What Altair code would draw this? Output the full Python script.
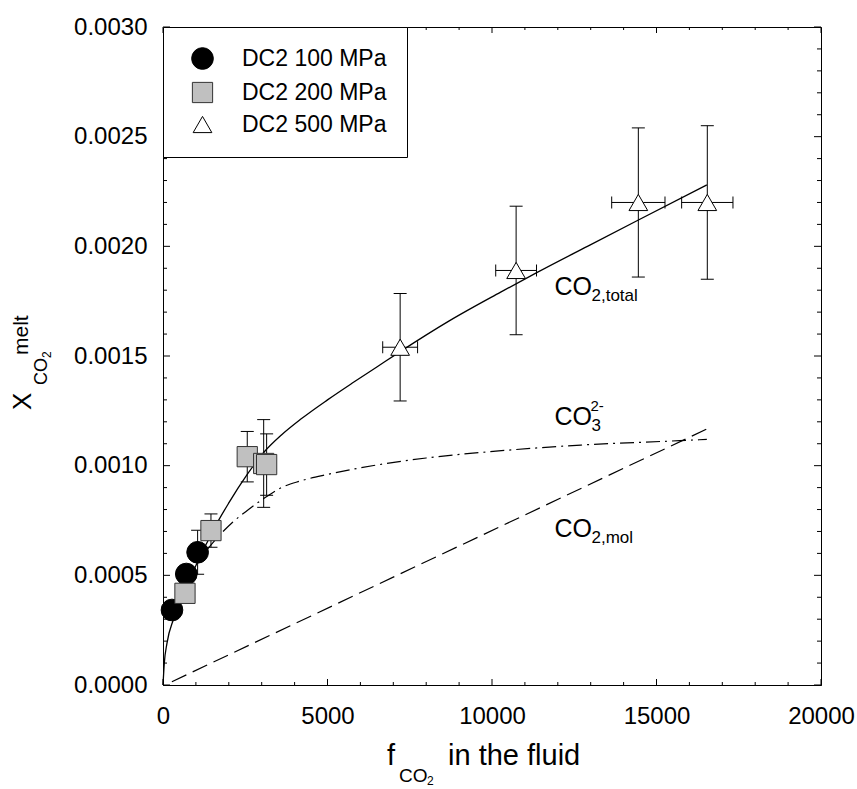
import altair as alt
import pandas as pd

FONT = "Liberation Sans"

# ---------------- data ----------------
series_names = ["DC2 100 MPa", "DC2 200 MPa", "DC2 500 MPa"]

p100_x = [273, 708, 1052]
p100_y = [0.000342, 0.000506, 0.000605]
p100_yerr = [0.00004, 0.00004, 0.0001]

p200_x = [668, 1458, 2561, 3060, 3150]
p200_y = [0.000418, 0.000704, 0.001041, 0.00101, 0.001005]
p200_yerr = [0.00004, 0.000076, 0.000115, 0.0002, 0.00014]

p500_x = [7208, 10733, 14448, 16544]
p500_y = [0.00154, 0.00189, 0.00220, 0.00220]
p500_yerr = [0.000245, 0.000293, 0.00034, 0.00035]
p500_xerr = [530, 620, 810, 780]

total_x = [0, 40, 120, 320, 500, 780, 1110, 1340, 1540, 2000, 2560, 3060,
           3600, 4170, 5000, 5790, 6500, 7210, 8700, 10250, 11360, 12900,
           14450, 16530]
total_y = [0, 0.00010, 0.00019, 0.00030, 0.00037, 0.00047, 0.00058, 0.00065,
           0.00071, 0.00083, 0.00096, 0.00106, 0.00114, 0.00121, 0.00130,
           0.00138, 0.00145, 0.00152, 0.00166, 0.00179, 0.00188, 0.00200,
           0.00212, 0.00228]

co3_x = [1300, 1700, 2100, 2600, 3060, 3600, 4170, 5000, 6000, 8000, 9800,
         12700, 15700, 16530]
co3_y = [0.00061, 0.00068, 0.00074, 0.00080, 0.00085, 0.00090, 0.00093,
         0.00096, 0.00099, 0.001035, 0.001062, 0.001094, 0.001114, 0.00112]

mol_x = [270, 16570]
mol_y = [0.000015, 0.00117]

label_x = [11900, 11900, 11900]
label_y = [0.001778, 0.001185, 0.000676]
label_main = ["CO", "CO", "CO"]
label_sub = ["2,total", "3", "2,mol"]

x_major = [0, 5000, 10000, 15000, 20000]
x_minor = [v for v in range(0, 20001, 1000) if v % 5000 != 0]
y_major = [0.0, 0.0005, 0.0010, 0.0015, 0.0020, 0.0025, 0.0030]
y_minor = [round(i * 0.0001, 4) for i in range(31) if i % 5 != 0]

# ---------------- tables ----------------
W = 658
H = 658

pts = pd.concat([
    pd.DataFrame({"x": p100_x, "y": p100_y, "yerr": p100_yerr, "xerr": 0.0,
                  "series": series_names[0]}),
    pd.DataFrame({"x": p200_x, "y": p200_y, "yerr": p200_yerr, "xerr": 0.0,
                  "series": series_names[1]}),
    pd.DataFrame({"x": p500_x, "y": p500_y, "yerr": p500_yerr, "xerr": p500_xerr,
                  "series": series_names[2]}),
], ignore_index=True)
pts["ylo"] = pts["y"] - pts["yerr"]
pts["yhi"] = pts["y"] + pts["yerr"]
pts["xlo"] = pts["x"] - pts["xerr"]
pts["xhi"] = pts["x"] + pts["xerr"]
hpts = pts[pts["xerr"] > 0]

total_df = pd.DataFrame({"x": total_x, "y": total_y})
co3_df = pd.DataFrame({"x": co3_x, "y": co3_y})
mol_df = pd.DataFrame({"x": mol_x, "y": mol_y})
lab_df = pd.DataFrame({"x": label_x, "y": label_y, "main": label_main, "sub": label_sub})

XS = alt.Scale(domain=[0, 20000], nice=False, zero=False)
YS = alt.Scale(domain=[0, 0.003], nice=False, zero=False)

XAX = alt.Axis(values=x_major, format="d", title=None, grid=False, ticks=False,
               labelFontSize=24, labelFont=FONT, labelColor="black",
               labelPadding=19, domainColor="black", labelFlush=False)
YAX = alt.Axis(values=y_major, format=".4f", title=None, grid=False, ticks=False,
               labelFontSize=24, labelFont=FONT, labelColor="black",
               labelPadding=16, domainColor="black", labelFlush=False)


def X(f):
    return alt.X(f, type="quantitative", scale=XS, axis=XAX)


def Y(f):
    return alt.Y(f, type="quantitative", scale=YS, axis=YAX)


# ---------------- curves ----------------
total_line = alt.Chart(total_df).mark_line(
    color="black", strokeWidth=1.3, interpolate="monotone"
).encode(x=X("x"), y=Y("y"))

co3_line = alt.Chart(co3_df).mark_line(
    color="black", strokeWidth=1.2, interpolate="monotone", strokeDash=[14, 5, 2, 5]
).encode(x=X("x"), y=Y("y"))

mol_line = alt.Chart(mol_df).mark_line(
    color="black", strokeWidth=1.2, strokeDash=[16, 7]
).encode(x=X("x"), y=Y("y"))

# ---------------- error bars ----------------
vbar = alt.Chart(pts).mark_rule(color="black", strokeWidth=1).encode(
    x=X("x"), y=Y("ylo"), y2=alt.Y2("yhi"))
vcap_lo = alt.Chart(pts).mark_tick(color="black", orient="horizontal", size=13,
                                   thickness=1, opacity=1).encode(x=X("x"), y=Y("ylo"))
vcap_hi = alt.Chart(pts).mark_tick(color="black", orient="horizontal", size=13,
                                   thickness=1, opacity=1).encode(x=X("x"), y=Y("yhi"))
hbar = alt.Chart(hpts).mark_rule(color="black", strokeWidth=1).encode(
    y=Y("y"), x=X("xlo"), x2=alt.X2("xhi"))
hcap_lo = alt.Chart(hpts).mark_tick(color="black", orient="vertical", size=12,
                                    thickness=1, opacity=1).encode(x=X("xlo"), y=Y("y"))
hcap_hi = alt.Chart(hpts).mark_tick(color="black", orient="vertical", size=12,
                                    thickness=1, opacity=1).encode(x=X("xhi"), y=Y("y"))

# ---------------- points + legend ----------------
LEG = alt.Legend(orient="none", legendX=0, legendY=0, title=None,
                 labelFontSize=23, labelFont=FONT, labelColor="black",
                 strokeColor="black", fillColor="white", padding=20,
                 rowPadding=8, labelOffset=28, symbolOffset=8,
                 symbolStrokeWidth=1, cornerRadius=0)

points = alt.Chart(pts).mark_point(filled=True, opacity=1, strokeWidth=1).encode(
    x=X("x"), y=Y("y"),
    shape=alt.Shape("series:N", scale=alt.Scale(domain=series_names,
                    range=["circle", "square", "triangle-up"]), legend=LEG),
    fill=alt.Fill("series:N", scale=alt.Scale(domain=series_names,
                  range=["black", "#c0c0c0", "white"]), legend=LEG),
    stroke=alt.Stroke("series:N", scale=alt.Scale(domain=series_names,
                      range=["black", "#333333", "black"]), legend=LEG),
    size=alt.Size("series:N", scale=alt.Scale(domain=series_names,
                  range=[470, 350, 515]), legend=LEG),
)

# ---------------- inward ticks on all four sides ----------------
xmaj_df = pd.DataFrame({"v": x_major})
xmin_df = pd.DataFrame({"v": x_minor})
ymaj_df = pd.DataFrame({"v": y_major})
ymin_df = pd.DataFrame({"v": y_minor})

tick_layers = []
for df, L in ((xmaj_df, 6), (xmin_df, 3)):
    tick_layers.append(alt.Chart(df).mark_rule(color="black", strokeWidth=1).encode(
        x=X("v"), y=alt.value(H), y2=alt.value(H - L)))
    tick_layers.append(alt.Chart(df).mark_rule(color="black", strokeWidth=1).encode(
        x=X("v"), y=alt.value(0), y2=alt.value(L)))
for df, L in ((ymaj_df, 7), (ymin_df, 4)):
    tick_layers.append(alt.Chart(df).mark_rule(color="black", strokeWidth=1).encode(
        y=Y("v"), x=alt.value(0), x2=alt.value(L)))
    tick_layers.append(alt.Chart(df).mark_rule(color="black", strokeWidth=1).encode(
        y=Y("v"), x=alt.value(W), x2=alt.value(W - L)))

# ---------------- in-plot labels ----------------
lab_main = alt.Chart(lab_df).mark_text(
    align="left", baseline="alphabetic", fontSize=25, font=FONT, color="black"
).encode(x=X("x"), y=Y("y"), text="main:N")
lab_sub = alt.Chart(lab_df).mark_text(
    align="left", baseline="alphabetic", fontSize=17, font=FONT, color="black",
    dx=37, dy=6
).encode(x=X("x"), y=Y("y"), text="sub:N")
lab_sup = alt.Chart(lab_df[lab_df["sub"] == "3"]).mark_text(
    align="left", baseline="alphabetic", fontSize=15, font=FONT, color="black",
    dx=36, dy=-14, text="2-"
).encode(x=X("x"), y=Y("y"))

# ---------------- axis titles (with sub/superscripts) ----------------
one = pd.DataFrame({"k": [0]})


def txt(s, x, y, size, angle=0):
    props = dict(align="left", baseline="alphabetic", fontSize=size, font=FONT,
                 color="black", text=s)
    if angle:
        props["angle"] = angle
    return alt.Chart(one).mark_text(**props).encode(x=alt.value(x), y=alt.value(y))


title_layers = [
    txt("f", 224, 738, 29),
    txt("CO", 236, 755, 19),
    txt("2", 264, 758, 12),
    txt("in the fluid", 285, 738, 29),
    txt("X", -132, 383, 26, 270),
    txt("CO", -116, 358, 18, 270),
    txt("2", -112, 331, 12, 270),
    txt("melt", -135, 328, 21, 270),
]

chart = alt.layer(
    mol_line, co3_line, total_line,
    vbar, vcap_lo, vcap_hi, hbar, hcap_lo, hcap_hi,
    points,
    *tick_layers,
    lab_main, lab_sub, lab_sup,
    *title_layers,
).properties(
    width=W, height=H,
    autosize=alt.AutoSizeParams(type="none"),
    padding={"left": 163, "top": 27, "right": 36, "bottom": 104},
    background="white",
).configure_view(stroke="black", strokeWidth=1)

chart.save("out.html", embed_options={"renderer": "svg", "actions": False})
